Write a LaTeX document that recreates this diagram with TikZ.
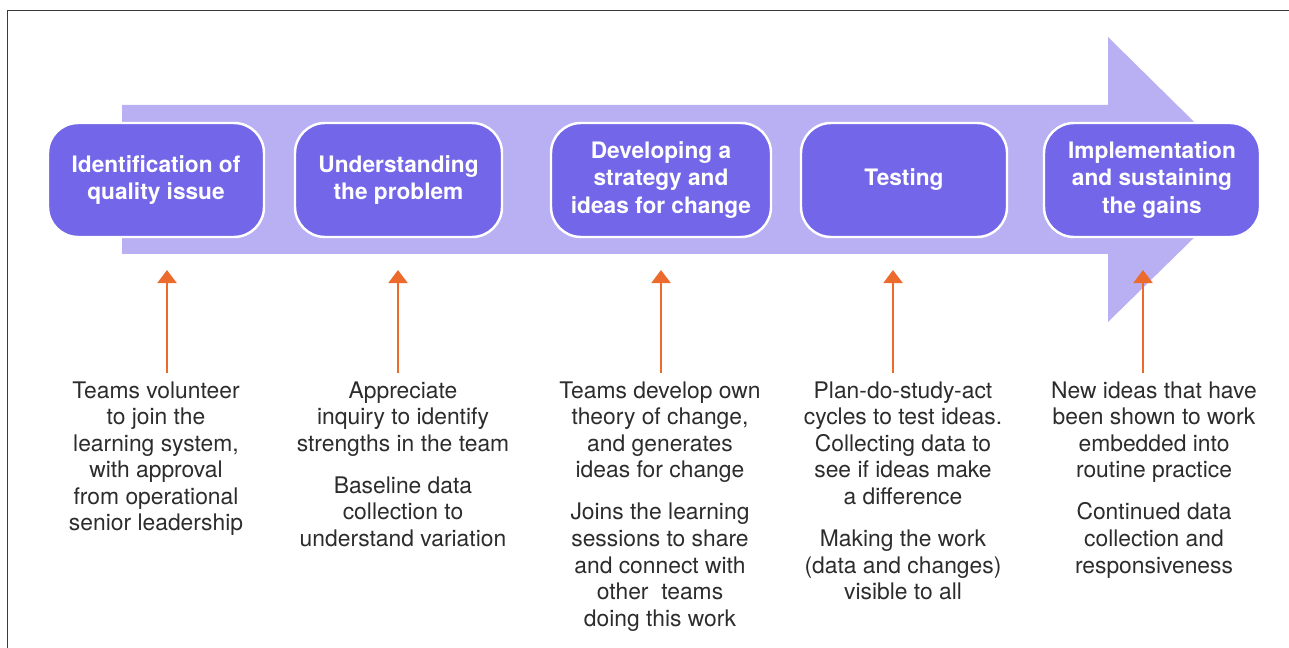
\documentclass[tikz,border=0pt]{standalone}
\usepackage{fontspec}
\setmainfont{TeX Gyre Heros}
\usepackage{tikz}
\usetikzlibrary{arrows.meta, positioning}

\definecolor{stagepurple}{HTML}{7366E8}
\definecolor{flowlilac}{HTML}{B8B0F2}
\definecolor{pointorange}{HTML}{EC6A2C}
\definecolor{bodygray}{HTML}{2C2C2C}
\definecolor{framegray}{HTML}{3A3A3A}

\tikzset{
  stage/.style={draw=white, line width=1.4pt, fill=stagepurple, rounded corners=6mm,
    minimum height=22.8mm, text=white, align=center,
    font=\fontsize{12.9pt}{15.4pt}\selectfont\bfseries},
  note/.style={anchor=north, inner sep=0pt, align=center, text=bodygray,
    font=\fontsize{13pt}{15.1pt}\selectfont},
  riser/.style={pointorange, line width=1.2pt, -{Triangle[width=10.8pt,length=7.4pt]}}
}

\begin{document}
\begin{tikzpicture}[x=0.2mm, y=-0.2mm]
    \useasboundingbox (0,0) rectangle (1289,648);

    % frame
    \draw[framegray, line width=0.9pt] (7.5,648) -- (7.5,10.5) -- (1289,10.5);

    % big flow arrow
    \fill[flowlilac] (122,105) -- (1108,105) -- (1108,37) -- (1253,180)
        -- (1108,322) -- (1108,254) -- (122,254) -- cycle;

    % stages
    \node[stage, minimum width=43.2mm] (s1) at (156,180) {Identification of\\quality issue};
    \node[stage, minimum width=41.4mm] (s2) at (398.5,180) {Understanding\\the problem};
    \node[stage, minimum width=44mm] (s3) at (661,180) {Developing a\\strategy and\\ideas for change};
    \node[stage, minimum width=41.2mm] (s4) at (904,180) {Testing};
    \node[stage, minimum width=43.2mm] (s5) at (1152,180) {Implementation\\and sustaining\\the gains};

    % what happens in each stage
    \node[note] (d1) at (156,381) {Teams volunteer\\to join the\\learning system,\\with approval\\from operational\\senior leadership};
    \node[note] (d2) at (403,381) {Appreciate\\inquiry to identify\\strengths in the team\\[9pt]Baseline data\\collection to\\understand variation};
    \node[note] (d3) at (660,381) {Teams develop own\\theory of change,\\and generates\\ideas for change\\[9pt]Joins the learning\\sessions to share\\and connect with\\other~ teams\\doing this work};
    \node[note] (d4) at (903,381) {Plan-do-study-act\\cycles to test ideas.\\Collecting data to\\see if ideas make\\a difference\\[9pt]Making the work\\(data and changes)\\visible to all};
    \node[note] (d5) at (1154,381) {New ideas that have\\been shown to work\\embedded into\\routine practice\\[9pt]Continued data\\collection and\\responsiveness};

    % orange pointers
    \foreach \i/\x in {1/167, 2/398, 3/661, 4/893, 5/1143} {
        \coordinate (t\i) at (\x,270);
        \draw[riser, shorten <=1.6mm] (t\i |- d\i.north) -- (t\i);
    }
\end{tikzpicture}
\end{document}
